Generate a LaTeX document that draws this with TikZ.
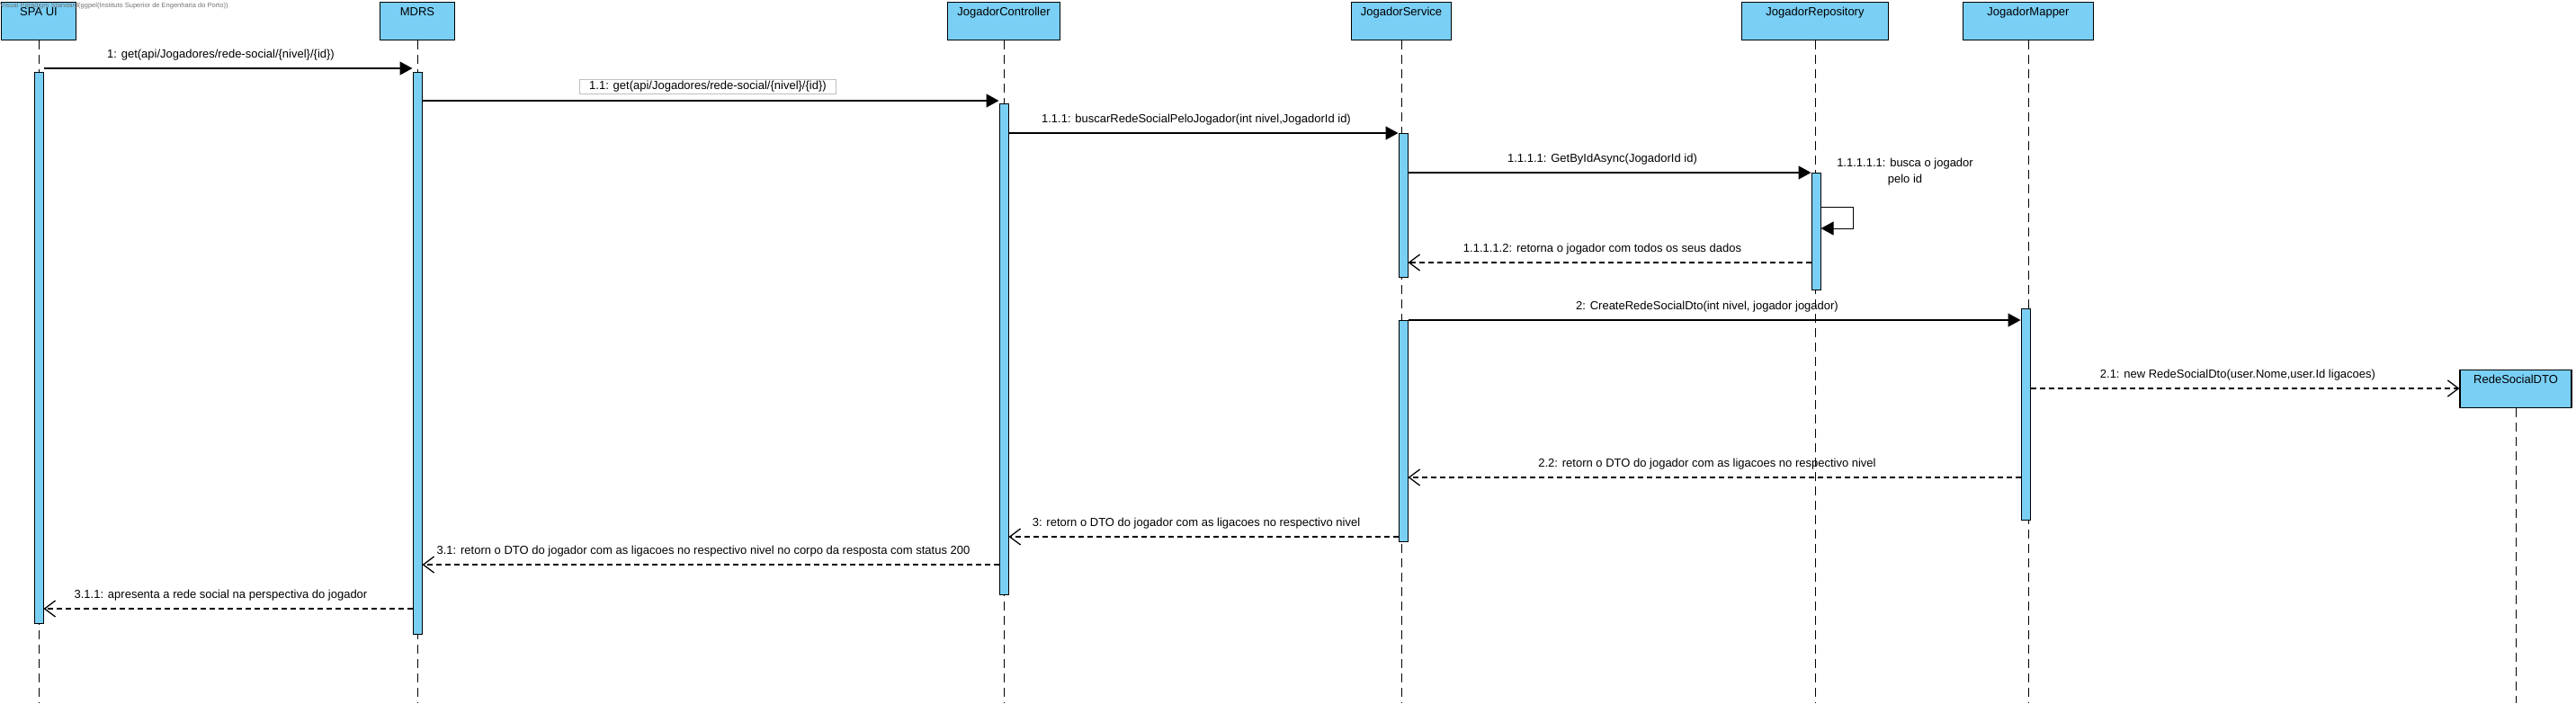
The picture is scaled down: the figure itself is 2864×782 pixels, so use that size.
\documentclass[tikz,border=0pt]{standalone}
\usepackage{fontspec}
\setmainfont{Liberation Sans}
\usetikzlibrary{arrows.meta,fit}
\definecolor{vpblue}{RGB}{122,207,245}
\tikzset{
  lifehead/.style={draw, fill=vpblue, line width=1.2pt, minimum width=#1, minimum height=42pt,
    inner xsep=0pt, inner ysep=3pt, text height=12pt, text depth=24pt, anchor=north,
    font=\fontsize{13}{15}\selectfont},
  lifeline/.style={line width=1pt, dash pattern=on 10pt off 6pt},
  act/.style={draw, fill=vpblue, line width=1pt, inner sep=0pt, minimum width=10pt},
  sync/.style={line width=1.3pt, -{Triangle[length=14pt,width=15pt]}},
  reply/.style={line width=1.3pt, dash pattern=on 6pt off 4pt, -{Straight Barb[length=12pt,width=18pt]}},
  msg/.style={font=\fontsize{13}{18}\selectfont, inner sep=0pt, midway, xshift=-8pt, yshift=14.5pt}
}
\begin{document}
\begin{tikzpicture}[x=1pt, y=-1pt]
    \useasboundingbox (0,0) rectangle (2864,782);

    % lifelines
    \node[lifehead=83pt] (spa) at (43,2) {SPA UI};
    \node[lifehead=83pt] (mdrs) at (464,2) {MDRS};
    \node[lifehead=125pt] (ctrl) at (1116,2) {JogadorController};
    \node[lifehead=111pt] (svc) at (1558,2) {JogadorService};
    \node[lifehead=163pt] (repo) at (2018,2) {JogadorRepository};
    \node[lifehead=145pt] (mapper) at (2255,2) {JogadorMapper};
    \node[lifehead=124pt] (dto) at (2797,411) {RedeSocialDTO};
    \foreach \n in {spa,mdrs,ctrl,svc,repo,mapper,dto}
      \draw[lifeline] (\n.south) -- (\n.south |- 0,782);
    \node[anchor=west, inner sep=0pt, text=black!55, font=\fontsize{7.5}{9}\selectfont] (vp) at (0,7)
      {Visual Paradigm Standard(ggpel(Instituto Superior de Engenharia do Porto))};

    % activations
    \node[act, fit={(43,80) (43,693)}] (spa1) {};
    \node[act, fit={(464,80) (464,705)}] (mdrs1) {};
    \node[act, fit={(1116,115) (1116,661)}] (ctrl1) {};
    \node[act, fit={(1560,148) (1560,308)}] (svc1) {};
    \node[act, fit={(2019,192) (2019,322)}] (repo1) {};
    \node[act, fit={(1560,356) (1560,602)}] (svc2) {};
    \node[act, fit={(2252,343) (2252,578)}] (map1) {};

    % messages
    \draw[sync] (spa1.east |- 0,76) -- (mdrs1.west |- 0,76)
      node[msg] {1: get(api/Jogadores/rede-social/\{nivel\}/\{id\})};
    \draw[sync] (mdrs1.east |- 0,112) -- (ctrl1.west |- 0,112)
      node[msg, draw=black!25, fill=white, inner xsep=11pt, inner ysep=2pt, xshift=5pt, yshift=1pt]
      {1.1: get(api/Jogadores/rede-social/\{nivel\}/\{id\})};
    \draw[sync] (ctrl1.east |- 0,148) -- (svc1.west |- 0,148)
      node[msg] {1.1.1: buscarRedeSocialPeloJogador(int nivel,JogadorId id)};
    \draw[sync] (svc1.east |- 0,192) -- (repo1.west |- 0,192)
      node[msg] {1.1.1.1: GetByIdAsync(JogadorId id)};
    \draw[line width=1pt, -{Triangle[length=14pt,width=15pt]}] (repo1.east |- 0,230) -- ++(36,0) |- (repo1.east |- 0,254);
    \node[font=\fontsize{13}{18}\selectfont, align=center, inner sep=0pt] (self) at (2118,191)
      {1.1.1.1.1: busca o jogador\\pelo id};
    \draw[reply] (repo1.west |- 0,292) -- (svc1.east |- 0,292)
      node[msg] {1.1.1.1.2: retorna o jogador com todos os seus dados};
    \draw[sync] (svc2.east |- 0,356) -- (map1.west |- 0,356)
      node[msg] {2: CreateRedeSocialDto(int nivel, jogador jogador)};
    \draw[reply] (map1.east |- 0,432) -- (dto.west |- 0,432)
      node[msg] {2.1: new RedeSocialDto(user.Nome,user.Id ligacoes)};
    \draw[reply] (map1.west |- 0,531) -- (svc2.east |- 0,531)
      node[msg] {2.2: retorn o DTO do jogador com as ligacoes no respectivo nivel};
    \draw[reply] (svc2.west |- 0,597) -- (ctrl1.east |- 0,597)
      node[msg] {3: retorn o DTO do jogador com as ligacoes no respectivo nivel};
    \draw[reply] (ctrl1.west |- 0,628) -- (mdrs1.east |- 0,628)
      node[msg] {3.1: retorn o DTO do jogador com as ligacoes no respectivo nivel no corpo da resposta com status 200};
    \draw[reply] (mdrs1.west |- 0,677) -- (spa1.east |- 0,677)
      node[msg] {3.1.1: apresenta a rede social na perspectiva do jogador};
\end{tikzpicture}
\end{document}
